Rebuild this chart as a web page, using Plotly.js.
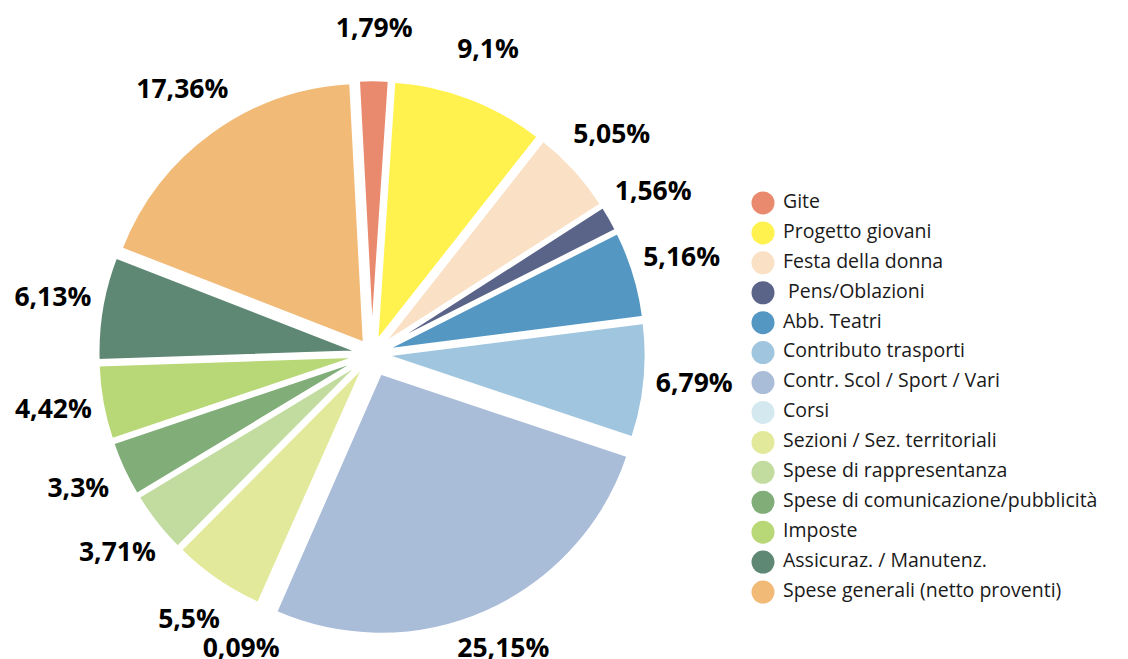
<!DOCTYPE html>
<html>
<head>
<meta charset="utf-8">
<script src="https://cdn.plot.ly/plotly-3.0.1.min.js"></script>
<style>html,body{margin:0;padding:0;background:#fff;}#chart{width:1128px;height:659px;}</style>
</head>
<body>
<div id="chart"></div>
<script>
const categories = ["Gite","Progetto giovani","Festa della donna"," Pens/Oblazioni","Abb. Teatri","Contributo trasporti","Contr. Scol / Sport / Vari","Corsi","Sezioni / Sez. territoriali","Spese di rappresentanza","Spese di comunicazione/pubblicità","Imposte","Assicuraz. / Manutenz.","Spese generali (netto proventi)"];
const values = [1.79, 9.1, 5.05, 1.56, 5.16, 6.79, 25.15, 0.09, 5.5, 3.71, 3.3, 4.42, 6.13, 17.36];
const colors = ["#E98A6E","#FFF24F","#FAE0C4","#5A6489","#5497C2","#9FC5DF","#A9BCD8","#D4E8F0","#E3E99A","#C2DC9F","#80AD78","#B8D877","#5E8874","#F1BA77"];
const pulls = [0.05,0.05,0.05,0.05,0.05,0.05,0.08,0.05,0.05,0.05,0.05,0.05,0.05,0.05];

const W = 1128, H = 659;
const startAngle = -3;          // degrees, clockwise from 12 o'clock
const labelRadius = 1.24;       // in units of the pie radius
const maxPull = Math.max(...pulls);

// pie box in pixels
const box = {x0: 90, x1: 654, top: 72, bottom: 636};
const pieDomain = {x: [box.x0 / W, box.x1 / W], y: [(H - box.bottom) / H, (H - box.top) / H]};
const cx = (box.x0 + box.x1) / 2, cyTop = (box.top + box.bottom) / 2;
const rPx = (box.x1 - box.x0) / 2 / (1 + maxPull);

const labelText = values.map(v => String(v).replace('.', ',') + '%');
const total = values.reduce((a, b) => a + b, 0);
let cum = 0;
const midAngles = values.map(v => { const m = startAngle + (cum + v / 2) / total * 360; cum += v; return m; });

const pie = {
  type: 'pie',
  labels: categories,
  values: values,
  textinfo: 'none',
  sort: false,
  direction: 'clockwise',
  rotation: startAngle,
  pull: pulls,
  marker: {colors: colors, line: {color: '#ffffff', width: 3}},
  domain: pieDomain,
  showlegend: false,
  automargin: false,
  hoverinfo: 'label+value'
};

const pieLabels = {
  type: 'scatter',
  mode: 'text',
  xaxis: 'x2', yaxis: 'y2',
  x: midAngles.map(a => labelRadius * Math.sin(a * Math.PI / 180)),
  y: midAngles.map(a => labelRadius * Math.cos(a * Math.PI / 180)),
  text: labelText,
  textposition: 'middle center',
  textfont: {family: 'Open Sans', size: 26.5, color: '#000', weight: 'bold'},
  cliponaxis: false,
  showlegend: false,
  hoverinfo: 'skip'
};

const legendMarkers = {
  type: 'scatter',
  mode: 'markers',
  x: categories.map(() => 0),
  y: categories,
  marker: {color: colors, size: 23, symbol: 'circle'},
  cliponaxis: false,
  showlegend: false,
  hoverinfo: 'skip'
};

const legendText = {
  type: 'scatter',
  mode: 'text',
  x: categories.map(() => 20),
  y: categories,
  text: categories,
  textposition: 'middle right',
  textfont: {family: 'Open Sans', size: 19.5, color: '#1a1a1a'},
  cliponaxis: false,
  showlegend: false,
  hoverinfo: 'skip'
};

const x2d1 = 0.62;
const layout = {
  width: W, height: H,
  margin: {l: 0, r: 0, t: 0, b: 0},
  paper_bgcolor: '#fff', plot_bgcolor: 'rgba(0,0,0,0)',
  showlegend: false,
  font: {family: 'Open Sans'},
  xaxis: {domain: [763/W, 1], range: [0, 365], visible: false, fixedrange: true},
  yaxis: {domain: [52/H, 471/H], type: 'category', range: [13.5, -0.5], visible: false, fixedrange: true},
  xaxis2: {domain: [0, x2d1], range: [(0 - cx) / rPx, (x2d1 * W - cx) / rPx], visible: false, fixedrange: true, anchor: 'y2'},
  yaxis2: {domain: [0, 1], range: [-(H - cyTop) / rPx, cyTop / rPx], visible: false, fixedrange: true, anchor: 'x2'}
};

Plotly.newPlot('chart', [pie, pieLabels, legendMarkers, legendText], layout, {displayModeBar: false, staticPlot: true});
</script>
</body>
</html>
